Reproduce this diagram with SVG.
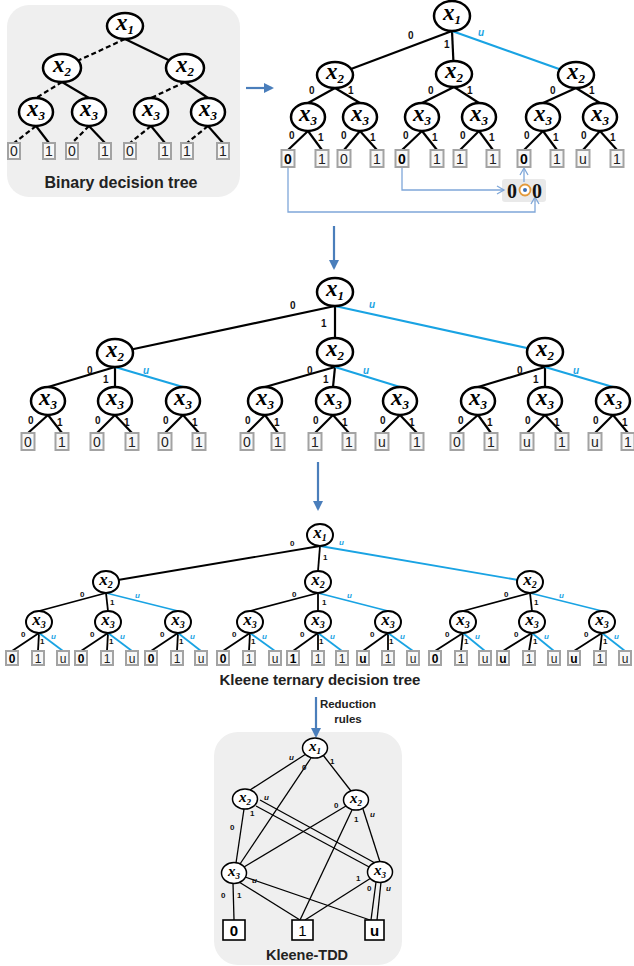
<svg xmlns="http://www.w3.org/2000/svg" width="634" height="966" viewBox="0 0 634 966">
<style>
.nd{fill:#fff;stroke:#000;stroke-width:2.5}
.nd2{fill:#fff;stroke:#000;stroke-width:2}
.nd3{fill:#fff;stroke:#000;stroke-width:1.5}
.xl{font-family:"Liberation Serif",serif;font-style:italic;font-weight:bold;font-size:23px;text-anchor:middle;fill:#000}
.xm{font-family:"Liberation Serif",serif;font-style:italic;font-weight:bold;font-size:17px;text-anchor:middle;fill:#000}
.xt{font-family:"Liberation Serif",serif;font-style:italic;font-weight:bold;font-size:15px;text-anchor:middle;fill:#000}
.sb{font-size:13px}
.sbm{font-size:10px}
.sbt{font-size:9px}
.e{stroke:#000;stroke-width:2.2;fill:none}
.e2{stroke:#000;stroke-width:1.8;fill:none}
.e3{stroke:#000;stroke-width:1.3;fill:none}
.d{stroke-dasharray:5 3}
.bl{stroke:#19a3e3}
.lf{fill:#f7f7f7;stroke:#a3a3a3;stroke-width:2}
.lt{font-family:"Liberation Sans",sans-serif;font-size:14px;text-anchor:middle;fill:#222}
.ls{font-family:"Liberation Sans",sans-serif;font-size:12px;text-anchor:middle;fill:#222}
.b{font-weight:bold;fill:#000}
.el{font-family:"Liberation Sans",sans-serif;font-weight:bold;font-size:10px;fill:#111}
.es{font-family:"Liberation Sans",sans-serif;font-weight:bold;font-size:8px;fill:#111}
.eu{fill:#19a3e3;font-style:italic}
.ti{font-family:"Liberation Sans",sans-serif;font-weight:bold;text-anchor:middle;fill:#222}
.ar{stroke:#4a7ebb;stroke-width:2.2;fill:none}
.lbl{stroke:#7fa7d9;stroke-width:1.3;fill:none}
.tl{fill:#fff;stroke:#000;stroke-width:1.6}
</style>
<defs>
<marker id="ah" markerWidth="10" markerHeight="10" refX="8" refY="5" orient="auto" markerUnits="userSpaceOnUse"><path d="M0,0 L10,5 L0,10 z" fill="#4a7ebb"/></marker>
<marker id="ao" markerWidth="10" markerHeight="10" refX="8" refY="5" orient="auto" markerUnits="userSpaceOnUse"><path d="M1,1 L8,5 L1,9" fill="none" stroke="#7fa7d9" stroke-width="1.3"/></marker>
</defs>

<!-- panels -->
<rect x="7" y="5" width="233" height="192" rx="22" fill="#efefef"/>
<rect x="214" y="732" width="188" height="233" rx="24" fill="#efefef"/>
<rect x="502" y="179" width="44" height="23" rx="3" fill="#e9e9e9"/>

<g id="connectors">
<!-- binary tree -->
<g class="e d">
<line x1="125" y1="39" x2="62" y2="68"/>
<line x1="62" y1="82" x2="36" y2="98"/>
<line x1="185" y1="82" x2="151" y2="98"/>
<line x1="36" y1="126" x2="14" y2="143"/>
<line x1="89" y1="126" x2="72" y2="143"/>
<line x1="151" y1="126" x2="130" y2="143"/>
<line x1="208" y1="126" x2="187" y2="143"/>
</g>
<g class="e">
<line x1="125" y1="39" x2="185" y2="68"/>
<line x1="62" y1="82" x2="89" y2="98"/>
<line x1="185" y1="82" x2="208" y2="98"/>
<line x1="36" y1="126" x2="49" y2="143"/>
<line x1="89" y1="126" x2="105" y2="143"/>
<line x1="151" y1="126" x2="165" y2="143"/>
<line x1="208" y1="126" x2="223" y2="143"/>
</g>
<!-- top right tree -->
<g class="e">
<line x1="452" y1="31" x2="335" y2="75"/>
<line x1="452" y1="31" x2="454" y2="74"/>
<line x1="335" y1="88" x2="308" y2="103"/><line x1="335" y1="88" x2="360" y2="103"/>
<line x1="454" y1="87" x2="422" y2="103"/><line x1="454" y1="87" x2="479" y2="103"/>
<line x1="576" y1="88" x2="543" y2="103"/><line x1="576" y1="88" x2="600" y2="103"/>
<line x1="308" y1="131" x2="288" y2="150"/><line x1="308" y1="131" x2="322" y2="150"/>
<line x1="360" y1="131" x2="344" y2="150"/><line x1="360" y1="131" x2="377" y2="150"/>
<line x1="422" y1="131" x2="402" y2="150"/><line x1="422" y1="131" x2="437" y2="150"/>
<line x1="479" y1="131" x2="460" y2="150"/><line x1="479" y1="131" x2="493" y2="150"/>
<line x1="543" y1="131" x2="524" y2="150"/><line x1="543" y1="131" x2="557" y2="150"/>
<line x1="600" y1="131" x2="583" y2="150"/><line x1="600" y1="131" x2="617" y2="150"/>
</g>
<line class="e bl" x1="452" y1="31" x2="576" y2="75"/>
<!-- middle tree -->
<g class="e">
<line x1="335" y1="306" x2="115" y2="353"/>
<line x1="335" y1="306" x2="335" y2="352"/>
<line x1="115" y1="367" x2="48" y2="387"/><line x1="115" y1="367" x2="115" y2="387"/>
<line x1="335" y1="367" x2="265" y2="387"/><line x1="335" y1="367" x2="333" y2="387"/>
<line x1="545" y1="367" x2="478" y2="387"/><line x1="545" y1="367" x2="545" y2="387"/>
<line x1="48" y1="415" x2="28" y2="433"/><line x1="48" y1="415" x2="62" y2="433"/>
<line x1="115" y1="415" x2="97" y2="433"/><line x1="115" y1="415" x2="132" y2="433"/>
<line x1="183" y1="415" x2="165" y2="433"/><line x1="183" y1="415" x2="199" y2="433"/>
<line x1="265" y1="415" x2="247" y2="433"/><line x1="265" y1="415" x2="278" y2="433"/>
<line x1="333" y1="415" x2="315" y2="433"/><line x1="333" y1="415" x2="349" y2="433"/>
<line x1="400" y1="415" x2="382" y2="433"/><line x1="400" y1="415" x2="417" y2="433"/>
<line x1="478" y1="415" x2="457" y2="433"/><line x1="478" y1="415" x2="491" y2="433"/>
<line x1="545" y1="415" x2="527" y2="433"/><line x1="545" y1="415" x2="562" y2="433"/>
<line x1="613" y1="415" x2="595" y2="433"/><line x1="613" y1="415" x2="628" y2="433"/>
</g>
<g class="e bl">
<line x1="335" y1="306" x2="545" y2="352"/>
<line x1="115" y1="367" x2="183" y2="387"/>
<line x1="335" y1="367" x2="400" y2="387"/>
<line x1="545" y1="367" x2="613" y2="387"/>
</g>
<!-- Kleene ternary tree -->
<g class="e2">
<line x1="320" y1="546" x2="106" y2="582"/>
<line x1="320" y1="546" x2="318" y2="571"/>
<line x1="106" y1="593" x2="39" y2="611"/><line x1="106" y1="593" x2="108" y2="611"/>
<line x1="318" y1="593" x2="250" y2="611"/><line x1="318" y1="593" x2="318" y2="611"/>
<line x1="530" y1="593" x2="463" y2="611"/><line x1="530" y1="593" x2="532" y2="611"/>
<line x1="39" y1="633" x2="12" y2="651"/><line x1="39" y1="633" x2="38" y2="651"/>
<line x1="108" y1="633" x2="81" y2="651"/><line x1="108" y1="633" x2="107" y2="651"/>
<line x1="178" y1="633" x2="151" y2="651"/><line x1="178" y1="633" x2="177" y2="651"/>
<line x1="250" y1="633" x2="223" y2="651"/><line x1="250" y1="633" x2="249" y2="651"/>
<line x1="318" y1="633" x2="293" y2="651"/><line x1="318" y1="633" x2="318" y2="651"/>
<line x1="388" y1="633" x2="363" y2="651"/><line x1="388" y1="633" x2="388" y2="651"/>
<line x1="463" y1="633" x2="435" y2="651"/><line x1="463" y1="633" x2="461" y2="651"/>
<line x1="532" y1="633" x2="503" y2="651"/><line x1="532" y1="633" x2="529" y2="651"/>
<line x1="602" y1="633" x2="574" y2="651"/><line x1="602" y1="633" x2="600" y2="651"/>
</g>
<g class="e2 bl">
<line x1="320" y1="546" x2="530" y2="582"/>
<line x1="106" y1="593" x2="178" y2="611"/>
<line x1="318" y1="593" x2="388" y2="611"/>
<line x1="530" y1="593" x2="602" y2="611"/>
<line x1="39" y1="633" x2="63" y2="651"/>
<line x1="108" y1="633" x2="132" y2="651"/>
<line x1="178" y1="633" x2="201" y2="651"/>
<line x1="250" y1="633" x2="275" y2="651"/>
<line x1="318" y1="633" x2="342" y2="651"/>
<line x1="388" y1="633" x2="413" y2="651"/>
<line x1="463" y1="633" x2="485" y2="651"/>
<line x1="532" y1="633" x2="554" y2="651"/>
<line x1="602" y1="633" x2="625" y2="651"/>
</g>
<!-- Kleene-TDD -->
<g class="e3">
<line x1="306" y1="754" x2="250" y2="790"/>
<line x1="311" y1="758" x2="240" y2="864"/>
<line x1="323" y1="755" x2="351" y2="791"/>
<line x1="244" y1="809" x2="236" y2="863"/>
<line x1="260" y1="800" x2="375" y2="863"/>
<line x1="256" y1="806" x2="371" y2="868"/>
<line x1="346" y1="806" x2="244" y2="867"/>
<line x1="352" y1="810" x2="300" y2="920"/>
<line x1="363" y1="809" x2="380" y2="862"/>
<line x1="233" y1="883" x2="234" y2="920"/>
<line x1="239" y1="882" x2="300" y2="920"/>
<line x1="245" y1="877" x2="370" y2="920"/>
<line x1="371" y1="878" x2="305" y2="920"/>
<line x1="376" y1="882" x2="371" y2="920"/>
<line x1="381" y1="882" x2="377" y2="920"/>
</g>
<!-- arrows -->
<line class="ar" x1="246" y1="88" x2="272" y2="88" marker-end="url(#ah)"/>
<line class="ar" x1="334" y1="226" x2="334" y2="268" marker-end="url(#ah)"/>
<line class="ar" x1="318" y1="462" x2="318" y2="509" marker-end="url(#ah)"/>
<line class="ar" x1="316" y1="697" x2="316" y2="736" marker-end="url(#ah)"/>
<!-- combination lines -->
<polyline class="lbl" points="288,167 288,212 535,212 535,197" marker-end="url(#ao)"/>
<polyline class="lbl" points="402,167 402,190 504,190" marker-end="url(#ao)"/>
<line class="lbl" x1="524" y1="182" x2="524" y2="168" marker-end="url(#ao)"/>
</g>

<!-- Binary decision tree nodes -->
<g id="bt-x1"><ellipse class="nd" cx="125" cy="26" rx="18" ry="13"/><text class="xl" x="125" y="30">x<tspan class="sb" dy="4">1</tspan></text></g>
<g id="bt-x2a"><ellipse class="nd" cx="62" cy="68" rx="19" ry="14"/><text class="xl" x="62" y="72">x<tspan class="sb" dy="4">2</tspan></text></g>
<g id="bt-x2b"><ellipse class="nd" cx="185" cy="68" rx="19" ry="14"/><text class="xl" x="185" y="72">x<tspan class="sb" dy="4">2</tspan></text></g>
<g id="bt-x3a"><ellipse class="nd" cx="36" cy="112" rx="17" ry="14"/><text class="xl" x="36" y="116">x<tspan class="sb" dy="4">3</tspan></text></g>
<g id="bt-x3b"><ellipse class="nd" cx="89" cy="112" rx="17" ry="14"/><text class="xl" x="89" y="116">x<tspan class="sb" dy="4">3</tspan></text></g>
<g id="bt-x3c"><ellipse class="nd" cx="151" cy="112" rx="17" ry="14"/><text class="xl" x="151" y="116">x<tspan class="sb" dy="4">3</tspan></text></g>
<g id="bt-x3d"><ellipse class="nd" cx="208" cy="112" rx="17" ry="14"/><text class="xl" x="208" y="116">x<tspan class="sb" dy="4">3</tspan></text></g>
<g id="bt-leaves">
<rect class="lf" x="8" y="143" width="12" height="16"/><text class="lt" x="14" y="156">0</text>
<rect class="lf" x="43" y="143" width="12" height="16"/><text class="lt" x="49" y="156">1</text>
<rect class="lf" x="66" y="143" width="12" height="16"/><text class="lt" x="72" y="156">0</text>
<rect class="lf" x="99" y="143" width="12" height="16"/><text class="lt" x="105" y="156">1</text>
<rect class="lf" x="124" y="143" width="12" height="16"/><text class="lt" x="130" y="156">0</text>
<rect class="lf" x="159" y="143" width="12" height="16"/><text class="lt" x="165" y="156">1</text>
<rect class="lf" x="181" y="143" width="12" height="16"/><text class="lt" x="187" y="156">1</text>
<rect class="lf" x="217" y="143" width="12" height="16"/><text class="lt" x="223" y="156">1</text>
</g>
<text class="ti" x="121" y="188" font-size="16">Binary decision tree</text>

<!-- Top right tree nodes -->
<g id="tr-x1"><ellipse class="nd" cx="452" cy="16" rx="18" ry="15"/><text class="xl" x="452" y="20">x<tspan class="sb" dy="4">1</tspan></text></g>
<g id="tr-x2a"><ellipse class="nd" cx="335" cy="75" rx="18" ry="13"/><text class="xl" x="335" y="79">x<tspan class="sb" dy="4">2</tspan></text></g>
<g id="tr-x2b"><ellipse class="nd" cx="454" cy="74" rx="18" ry="13"/><text class="xl" x="454" y="78">x<tspan class="sb" dy="4">2</tspan></text></g>
<g id="tr-x2c"><ellipse class="nd" cx="576" cy="75" rx="18" ry="13"/><text class="xl" x="576" y="79">x<tspan class="sb" dy="4">2</tspan></text></g>
<g id="tr-x3a"><ellipse class="nd" cx="308" cy="117" rx="17" ry="14"/><text class="xl" x="308" y="121">x<tspan class="sb" dy="4">3</tspan></text></g>
<g id="tr-x3b"><ellipse class="nd" cx="360" cy="117" rx="17" ry="14"/><text class="xl" x="360" y="121">x<tspan class="sb" dy="4">3</tspan></text></g>
<g id="tr-x3c"><ellipse class="nd" cx="422" cy="117" rx="17" ry="14"/><text class="xl" x="422" y="121">x<tspan class="sb" dy="4">3</tspan></text></g>
<g id="tr-x3d"><ellipse class="nd" cx="479" cy="117" rx="17" ry="14"/><text class="xl" x="479" y="121">x<tspan class="sb" dy="4">3</tspan></text></g>
<g id="tr-x3e"><ellipse class="nd" cx="543" cy="117" rx="17" ry="14"/><text class="xl" x="543" y="121">x<tspan class="sb" dy="4">3</tspan></text></g>
<g id="tr-x3f"><ellipse class="nd" cx="600" cy="117" rx="17" ry="14"/><text class="xl" x="600" y="121">x<tspan class="sb" dy="4">3</tspan></text></g>
<g id="tr-leaves">
<rect class="lf" x="281.5" y="150" width="13" height="17"/><text class="lt b" x="288" y="164">0</text>
<rect class="lf" x="315.5" y="150" width="13" height="17"/><text class="lt" x="322" y="164">1</text>
<rect class="lf" x="337.5" y="150" width="13" height="17"/><text class="lt" x="344" y="164">0</text>
<rect class="lf" x="370.5" y="150" width="13" height="17"/><text class="lt" x="377" y="164">1</text>
<rect class="lf" x="395.5" y="150" width="13" height="17"/><text class="lt b" x="402" y="164">0</text>
<rect class="lf" x="430.5" y="150" width="13" height="17"/><text class="lt" x="437" y="164">1</text>
<rect class="lf" x="453.5" y="150" width="13" height="17"/><text class="lt" x="460" y="164">1</text>
<rect class="lf" x="486.5" y="150" width="13" height="17"/><text class="lt" x="493" y="164">1</text>
<rect class="lf" x="517.5" y="150" width="13" height="17"/><text class="lt b" x="524" y="164">0</text>
<rect class="lf" x="550.5" y="150" width="13" height="17"/><text class="lt" x="557" y="164">1</text>
<rect class="lf" x="576.5" y="150" width="13" height="17"/><text class="lt" x="583" y="164">u</text>
<rect class="lf" x="610.5" y="150" width="13" height="17"/><text class="lt" x="617" y="164">1</text>
</g>
<g id="tr-labels" class="el">
<text x="408" y="39">0</text><text x="444" y="48">1</text><text class="eu" x="478" y="36">u</text>
<text x="309" y="94">0</text><text x="348" y="94">1</text>
<text x="428" y="94">0</text><text x="467" y="94">1</text>
<text x="550" y="94">0</text><text x="589" y="94">1</text>
<text x="289" y="139">0</text><text x="318" y="141">1</text>
<text x="341" y="139">0</text><text x="370" y="141">1</text>
<text x="403" y="139">0</text><text x="432" y="141">1</text>
<text x="460" y="139">0</text><text x="489" y="141">1</text>
<text x="524" y="139">0</text><text x="553" y="141">1</text>
<text x="581" y="139">0</text><text x="610" y="141">1</text>
</g>
<g id="combine">
<text x="507" y="198" font-family="Liberation Serif, serif" font-weight="bold" font-size="20" fill="#111">0</text>
<circle cx="525" cy="190" r="5.5" fill="#fff" stroke="#e39a3b" stroke-width="1.8"/>
<circle cx="525" cy="190" r="2" fill="#3b6fb6"/>
<text x="532" y="198" font-family="Liberation Serif, serif" font-weight="bold" font-size="20" fill="#111">0</text>
</g>

<!-- Middle tree nodes -->
<g id="md-x1"><ellipse class="nd" cx="335" cy="292" rx="18" ry="14"/><text class="xl" x="335" y="296">x<tspan class="sb" dy="4">1</tspan></text></g>
<g id="md-x2a"><ellipse class="nd" cx="115" cy="353" rx="18" ry="14"/><text class="xl" x="115" y="357">x<tspan class="sb" dy="4">2</tspan></text></g>
<g id="md-x2b"><ellipse class="nd" cx="335" cy="352" rx="18" ry="14"/><text class="xl" x="335" y="356">x<tspan class="sb" dy="4">2</tspan></text></g>
<g id="md-x2c"><ellipse class="nd" cx="545" cy="352" rx="18" ry="14"/><text class="xl" x="545" y="356">x<tspan class="sb" dy="4">2</tspan></text></g>
<g id="md-x3a"><ellipse class="nd" cx="48" cy="401" rx="17" ry="14"/><text class="xl" x="48" y="405">x<tspan class="sb" dy="4">3</tspan></text></g>
<g id="md-x3b"><ellipse class="nd" cx="115" cy="401" rx="17" ry="14"/><text class="xl" x="115" y="405">x<tspan class="sb" dy="4">3</tspan></text></g>
<g id="md-x3c"><ellipse class="nd" cx="183" cy="401" rx="17" ry="14"/><text class="xl" x="183" y="405">x<tspan class="sb" dy="4">3</tspan></text></g>
<g id="md-x3d"><ellipse class="nd" cx="265" cy="401" rx="17" ry="14"/><text class="xl" x="265" y="405">x<tspan class="sb" dy="4">3</tspan></text></g>
<g id="md-x3e"><ellipse class="nd" cx="333" cy="401" rx="17" ry="14"/><text class="xl" x="333" y="405">x<tspan class="sb" dy="4">3</tspan></text></g>
<g id="md-x3f"><ellipse class="nd" cx="400" cy="401" rx="17" ry="14"/><text class="xl" x="400" y="405">x<tspan class="sb" dy="4">3</tspan></text></g>
<g id="md-x3g"><ellipse class="nd" cx="478" cy="401" rx="17" ry="14"/><text class="xl" x="478" y="405">x<tspan class="sb" dy="4">3</tspan></text></g>
<g id="md-x3h"><ellipse class="nd" cx="545" cy="401" rx="17" ry="14"/><text class="xl" x="545" y="405">x<tspan class="sb" dy="4">3</tspan></text></g>
<g id="md-x3i"><ellipse class="nd" cx="613" cy="401" rx="17" ry="14"/><text class="xl" x="613" y="405">x<tspan class="sb" dy="4">3</tspan></text></g>
<g id="md-leaves">
<rect class="lf" x="21.5" y="433" width="13" height="17"/><text class="lt" x="28" y="447">0</text>
<rect class="lf" x="55.5" y="433" width="13" height="17"/><text class="lt" x="62" y="447">1</text>
<rect class="lf" x="90.5" y="433" width="13" height="17"/><text class="lt" x="97" y="447">0</text>
<rect class="lf" x="125.5" y="433" width="13" height="17"/><text class="lt" x="132" y="447">1</text>
<rect class="lf" x="158.5" y="433" width="13" height="17"/><text class="lt" x="165" y="447">0</text>
<rect class="lf" x="192.5" y="433" width="13" height="17"/><text class="lt" x="199" y="447">1</text>
<rect class="lf" x="240.5" y="433" width="13" height="17"/><text class="lt" x="247" y="447">0</text>
<rect class="lf" x="271.5" y="433" width="13" height="17"/><text class="lt" x="278" y="447">1</text>
<rect class="lf" x="308.5" y="433" width="13" height="17"/><text class="lt" x="315" y="447">1</text>
<rect class="lf" x="342.5" y="433" width="13" height="17"/><text class="lt" x="349" y="447">1</text>
<rect class="lf" x="375.5" y="433" width="13" height="17"/><text class="lt" x="382" y="447">u</text>
<rect class="lf" x="410.5" y="433" width="13" height="17"/><text class="lt" x="417" y="447">1</text>
<rect class="lf" x="450.5" y="433" width="13" height="17"/><text class="lt" x="457" y="447">0</text>
<rect class="lf" x="484.5" y="433" width="13" height="17"/><text class="lt" x="491" y="447">1</text>
<rect class="lf" x="520.5" y="433" width="13" height="17"/><text class="lt" x="527" y="447">u</text>
<rect class="lf" x="555.5" y="433" width="13" height="17"/><text class="lt" x="562" y="447">1</text>
<rect class="lf" x="588.5" y="433" width="13" height="17"/><text class="lt" x="595" y="447">u</text>
<rect class="lf" x="621.5" y="433" width="13" height="17"/><text class="lt" x="628" y="447">1</text>
</g>
<g id="md-labels" class="el">
<text x="290" y="309">0</text><text x="321" y="327">1</text><text class="eu" x="369" y="308">u</text>
<text x="87" y="374">0</text><text x="103" y="383">1</text><text class="eu" x="143" y="374">u</text>
<text x="307" y="374">0</text><text x="323" y="383">1</text><text class="eu" x="363" y="374">u</text>
<text x="517" y="374">0</text><text x="533" y="383">1</text><text class="eu" x="573" y="374">u</text>
<text x="28" y="424">0</text><text x="57" y="426">1</text>
<text x="95" y="424">0</text><text x="124" y="426">1</text>
<text x="163" y="424">0</text><text x="192" y="426">1</text>
<text x="245" y="424">0</text><text x="274" y="426">1</text>
<text x="313" y="424">0</text><text x="342" y="426">1</text>
<text x="380" y="424">0</text><text x="409" y="426">1</text>
<text x="458" y="424">0</text><text x="487" y="426">1</text>
<text x="525" y="424">0</text><text x="554" y="426">1</text>
<text x="593" y="424">0</text><text x="622" y="426">1</text>
</g>

<!-- Kleene ternary decision tree nodes -->
<g id="kt-x1"><ellipse class="nd2" cx="320" cy="535" rx="13" ry="11"/><text class="xm" x="320" y="538">x<tspan class="sbm" dy="3">1</tspan></text></g>
<g id="kt-x2a"><ellipse class="nd2" cx="106" cy="582" rx="13" ry="11"/><text class="xm" x="106" y="585">x<tspan class="sbm" dy="3">2</tspan></text></g>
<g id="kt-x2b"><ellipse class="nd2" cx="318" cy="582" rx="13" ry="11"/><text class="xm" x="318" y="585">x<tspan class="sbm" dy="3">2</tspan></text></g>
<g id="kt-x2c"><ellipse class="nd2" cx="530" cy="582" rx="13" ry="11"/><text class="xm" x="530" y="585">x<tspan class="sbm" dy="3">2</tspan></text></g>
<g id="kt-x3a"><ellipse class="nd2" cx="39" cy="622" rx="13" ry="11"/><text class="xm" x="39" y="625">x<tspan class="sbm" dy="3">3</tspan></text></g>
<g id="kt-x3b"><ellipse class="nd2" cx="108" cy="622" rx="13" ry="11"/><text class="xm" x="108" y="625">x<tspan class="sbm" dy="3">3</tspan></text></g>
<g id="kt-x3c"><ellipse class="nd2" cx="178" cy="622" rx="13" ry="11"/><text class="xm" x="178" y="625">x<tspan class="sbm" dy="3">3</tspan></text></g>
<g id="kt-x3d"><ellipse class="nd2" cx="250" cy="622" rx="13" ry="11"/><text class="xm" x="250" y="625">x<tspan class="sbm" dy="3">3</tspan></text></g>
<g id="kt-x3e"><ellipse class="nd2" cx="318" cy="622" rx="13" ry="11"/><text class="xm" x="318" y="625">x<tspan class="sbm" dy="3">3</tspan></text></g>
<g id="kt-x3f"><ellipse class="nd2" cx="388" cy="622" rx="13" ry="11"/><text class="xm" x="388" y="625">x<tspan class="sbm" dy="3">3</tspan></text></g>
<g id="kt-x3g"><ellipse class="nd2" cx="463" cy="622" rx="13" ry="11"/><text class="xm" x="463" y="625">x<tspan class="sbm" dy="3">3</tspan></text></g>
<g id="kt-x3h"><ellipse class="nd2" cx="532" cy="622" rx="13" ry="11"/><text class="xm" x="532" y="625">x<tspan class="sbm" dy="3">3</tspan></text></g>
<g id="kt-x3i"><ellipse class="nd2" cx="602" cy="622" rx="13" ry="11"/><text class="xm" x="602" y="625">x<tspan class="sbm" dy="3">3</tspan></text></g>
<g id="kt-leaves">
<rect class="lf" x="6" y="651" width="12" height="14"/><text class="ls b" x="12" y="663">0</text>
<rect class="lf" x="32" y="651" width="12" height="14"/><text class="ls" x="38" y="663">1</text>
<rect class="lf" x="57" y="651" width="12" height="14"/><text class="ls" x="63" y="663">u</text>
<rect class="lf" x="75" y="651" width="12" height="14"/><text class="ls b" x="81" y="663">0</text>
<rect class="lf" x="101" y="651" width="12" height="14"/><text class="ls" x="107" y="663">1</text>
<rect class="lf" x="126" y="651" width="12" height="14"/><text class="ls" x="132" y="663">u</text>
<rect class="lf" x="145" y="651" width="12" height="14"/><text class="ls b" x="151" y="663">0</text>
<rect class="lf" x="171" y="651" width="12" height="14"/><text class="ls" x="177" y="663">1</text>
<rect class="lf" x="195" y="651" width="12" height="14"/><text class="ls" x="201" y="663">u</text>
<rect class="lf" x="217" y="651" width="12" height="14"/><text class="ls b" x="223" y="663">0</text>
<rect class="lf" x="243" y="651" width="12" height="14"/><text class="ls" x="249" y="663">1</text>
<rect class="lf" x="269" y="651" width="12" height="14"/><text class="ls" x="275" y="663">u</text>
<rect class="lf" x="287" y="651" width="12" height="14"/><text class="ls b" x="293" y="663">1</text>
<rect class="lf" x="312" y="651" width="12" height="14"/><text class="ls" x="318" y="663">1</text>
<rect class="lf" x="336" y="651" width="12" height="14"/><text class="ls" x="342" y="663">1</text>
<rect class="lf" x="357" y="651" width="12" height="14"/><text class="ls b" x="363" y="663">u</text>
<rect class="lf" x="382" y="651" width="12" height="14"/><text class="ls" x="388" y="663">1</text>
<rect class="lf" x="407" y="651" width="12" height="14"/><text class="ls" x="413" y="663">u</text>
<rect class="lf" x="429" y="651" width="12" height="14"/><text class="ls b" x="435" y="663">0</text>
<rect class="lf" x="455" y="651" width="12" height="14"/><text class="ls" x="461" y="663">1</text>
<rect class="lf" x="479" y="651" width="12" height="14"/><text class="ls" x="485" y="663">u</text>
<rect class="lf" x="497" y="651" width="12" height="14"/><text class="ls b" x="503" y="663">u</text>
<rect class="lf" x="523" y="651" width="12" height="14"/><text class="ls" x="529" y="663">1</text>
<rect class="lf" x="548" y="651" width="12" height="14"/><text class="ls" x="554" y="663">u</text>
<rect class="lf" x="568" y="651" width="12" height="14"/><text class="ls b" x="574" y="663">u</text>
<rect class="lf" x="594" y="651" width="12" height="14"/><text class="ls" x="600" y="663">1</text>
<rect class="lf" x="619" y="651" width="12" height="14"/><text class="ls" x="625" y="663">u</text>
</g>
<g id="kt-labels" class="es">
<text x="290" y="546">0</text><text x="323" y="560">1</text><text class="eu" x="339" y="545">u</text>
<text x="80" y="597">0</text><text x="110" y="605">1</text><text class="eu" x="135" y="598">u</text>
<text x="292" y="597">0</text><text x="322" y="605">1</text><text class="eu" x="347" y="598">u</text>
<text x="504" y="597">0</text><text x="534" y="605">1</text><text class="eu" x="559" y="598">u</text>
<text x="21" y="637">0</text><text x="40" y="644">1</text><text class="eu" x="51" y="639">u</text>
<text x="90" y="637">0</text><text x="109" y="644">1</text><text class="eu" x="120" y="639">u</text>
<text x="160" y="637">0</text><text x="179" y="644">1</text><text class="eu" x="190" y="639">u</text>
<text x="232" y="637">0</text><text x="251" y="644">1</text><text class="eu" x="262" y="639">u</text>
<text x="300" y="637">0</text><text x="319" y="644">1</text><text class="eu" x="330" y="639">u</text>
<text x="370" y="637">0</text><text x="389" y="644">1</text><text class="eu" x="400" y="639">u</text>
<text x="445" y="637">0</text><text x="464" y="644">1</text><text class="eu" x="475" y="639">u</text>
<text x="514" y="637">0</text><text x="533" y="644">1</text><text class="eu" x="544" y="639">u</text>
<text x="584" y="637">0</text><text x="603" y="644">1</text><text class="eu" x="614" y="639">u</text>
</g>
<text class="ti" x="320" y="685" font-size="15">Kleene ternary decision tree</text>
<text class="ti" x="348" y="708" font-size="11.5">Reduction</text>
<text class="ti" x="348" y="723" font-size="11.5">rules</text>

<!-- Kleene-TDD nodes -->
<g id="tdd-x1"><ellipse class="nd3" cx="315" cy="748" rx="12.5" ry="10"/><text class="xt" x="315" y="751">x<tspan class="sbt" dy="3">1</tspan></text></g>
<g id="tdd-x2a"><ellipse class="nd3" cx="245" cy="799" rx="12.5" ry="10"/><text class="xt" x="245" y="802">x<tspan class="sbt" dy="3">2</tspan></text></g>
<g id="tdd-x2b"><ellipse class="nd3" cx="356" cy="800" rx="12.5" ry="10"/><text class="xt" x="356" y="803">x<tspan class="sbt" dy="3">2</tspan></text></g>
<g id="tdd-x3a"><ellipse class="nd3" cx="234" cy="873" rx="12.5" ry="10.5"/><text class="xt" x="234" y="876">x<tspan class="sbt" dy="3">3</tspan></text></g>
<g id="tdd-x3b"><ellipse class="nd3" cx="380" cy="872" rx="12.5" ry="10.5"/><text class="xt" x="380" y="875">x<tspan class="sbt" dy="3">3</tspan></text></g>
<g id="tdd-t0"><rect class="tl" x="223" y="920" width="22" height="20"/><text x="234" y="936" font-family="Liberation Sans, sans-serif" font-weight="bold" font-size="15" text-anchor="middle">0</text></g>
<g id="tdd-t1"><rect class="tl" x="292" y="920" width="21" height="20"/><text x="302.5" y="936" font-family="Liberation Sans, sans-serif" font-size="15" text-anchor="middle">1</text></g>
<g id="tdd-tu"><rect class="tl" x="365" y="920" width="19" height="20"/><text x="374.5" y="936" font-family="Liberation Sans, sans-serif" font-weight="bold" font-size="15" text-anchor="middle">u</text></g>
<g id="tdd-labels" class="es">
<text x="289" y="760" font-style="italic">u</text><text x="302" y="770">0</text><text x="330" y="764">1</text>
<text x="264" y="800" font-style="italic">u</text><text x="250" y="816">1</text><text x="230" y="830">0</text>
<text x="334" y="808">0</text><text x="354" y="822">1</text><text x="370" y="817" font-style="italic">u</text>
<text x="252" y="883" font-style="italic">u</text><text x="221" y="898">0</text><text x="237" y="898">1</text>
<text x="356" y="881">1</text><text x="367" y="891">0</text><text x="386" y="891" font-style="italic">u</text>
</g>
<text class="ti" x="307" y="960" font-size="14.5">Kleene-TDD</text>
</svg>
